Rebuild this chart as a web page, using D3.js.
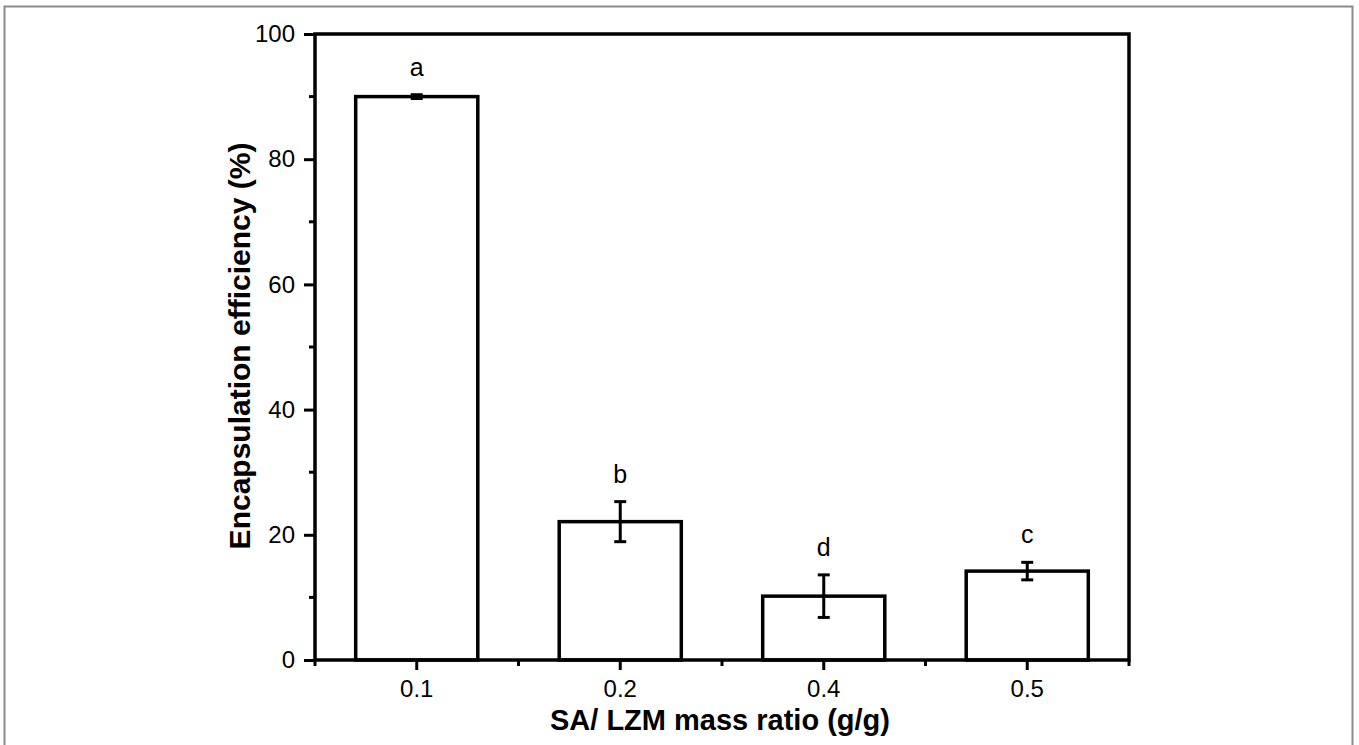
<!DOCTYPE html>
<html>
<head>
<meta charset="utf-8">
<script src="https://cdn.jsdelivr.net/npm/d3@7"></script>
<style>
  body { margin: 0; background: #fff; }
  svg { display: block; font-family: Arial, "Liberation Sans", sans-serif; }
</style>
</head>
<body>
<svg width="1359" height="745"></svg>
<script>
const categories = ["0.1", "0.2", "0.4", "0.5"];
const values = [90.0, 22.1, 10.2, 14.2];
const errors = [0.3, 3.2, 3.4, 1.4];
const letters = ["a", "b", "d", "c"];
const yTicks = [0, 20, 40, 60, 80, 100];
const yMinorTicks = [10, 30, 50, 70, 90];

const svg = d3.select("svg");

// outer frame of the figure
svg.append("rect")
    .attr("x", 4.5).attr("y", 6.5)
    .attr("width", 1348).attr("height", 780)
    .attr("fill", "none")
    .attr("stroke", "#8a8a8a")
    .attr("stroke-width", 2);

const plotL = 315, plotR = 1129, plotT = 34, plotB = 660;

const x = d3.scaleBand()
    .domain(categories)
    .range([plotL, plotR])
    .paddingInner(0)
    .paddingOuter(0);

const y = d3.scaleLinear()
    .domain([0, 100])
    .range([plotB, plotT]);

const barW = x.bandwidth() * 0.6;

// bars
svg.selectAll("rect.bar")
    .data(categories)
    .enter()
    .append("rect")
    .attr("class", "bar")
    .attr("x", d => x(d) + (x.bandwidth() - barW) / 2)
    .attr("y", (d, i) => y(values[i]))
    .attr("width", barW)
    .attr("height", (d, i) => plotB - y(values[i]))
    .attr("fill", "#fff")
    .attr("stroke", "#000")
    .attr("stroke-width", 3.5);

// error bars + letters
const eb = svg.append("g").attr("stroke", "#000").attr("stroke-width", 3);
categories.forEach((c, i) => {
  const cx = x(c) + x.bandwidth() / 2;
  const y1 = y(values[i] + errors[i]);
  const y2 = y(values[i] - errors[i]);
  eb.append("line").attr("x1", cx).attr("x2", cx).attr("y1", y1).attr("y2", y2);
  eb.append("line").attr("x1", cx - 6).attr("x2", cx + 6).attr("y1", y1).attr("y2", y1);
  eb.append("line").attr("x1", cx - 6).attr("x2", cx + 6).attr("y1", y2).attr("y2", y2);
  svg.append("text")
      .attr("x", cx)
      .attr("y", y1 - 19)
      .attr("text-anchor", "middle")
      .style("font-size", "25px")
      .text(letters[i]);
});

// y axis
const yAxis = svg.append("g")
    .attr("transform", `translate(${plotL},0)`)
    .call(d3.axisLeft(y).tickValues(yTicks).tickSize(11).tickPadding(9).tickFormat(d3.format("d")));
yAxis.select(".domain").remove();
yAxis.selectAll(".tick line").attr("stroke-width", 3);
yAxis.selectAll(".tick text").style("font-size", "24px").attr("fill", "#000");

svg.append("g").selectAll("line")
    .data(yMinorTicks)
    .enter()
    .append("line")
    .attr("x1", plotL - 6).attr("x2", plotL)
    .attr("y1", d => y(d)).attr("y2", d => y(d))
    .attr("stroke", "#000").attr("stroke-width", 3);

// x axis
const xAxis = svg.append("g")
    .attr("transform", `translate(0,${plotB})`)
    .call(d3.axisBottom(x).tickSize(10).tickPadding(10));
xAxis.select(".domain").remove();
xAxis.selectAll(".tick line").attr("stroke-width", 3);
xAxis.selectAll(".tick text").style("font-size", "24px").attr("fill", "#000");

const xMinor = categories.map(c => x(c)).concat([plotR]);
svg.append("g").selectAll("line")
    .data(xMinor)
    .enter()
    .append("line")
    .attr("x1", d => d).attr("x2", d => d)
    .attr("y1", plotB).attr("y2", plotB + 6)
    .attr("stroke", "#000").attr("stroke-width", 3);

// frame of plot area
svg.append("rect")
    .attr("x", plotL).attr("y", plotT)
    .attr("width", plotR - plotL).attr("height", plotB - plotT)
    .attr("fill", "none")
    .attr("stroke", "#000")
    .attr("stroke-width", 3.5);

// axis titles
svg.append("text")
    .attr("x", 720)
    .attr("y", 730)
    .attr("text-anchor", "middle")
    .style("font-size", "29px")
    .style("font-weight", "bold")
    .text("SA/ LZM mass ratio (g/g)");

svg.append("text")
    .attr("transform", "translate(250,346) rotate(-90)")
    .attr("text-anchor", "middle")
    .style("font-size", "30px")
    .style("font-weight", "bold")
    .text("Encapsulation efficiency (%)");
</script>
</body>
</html>
